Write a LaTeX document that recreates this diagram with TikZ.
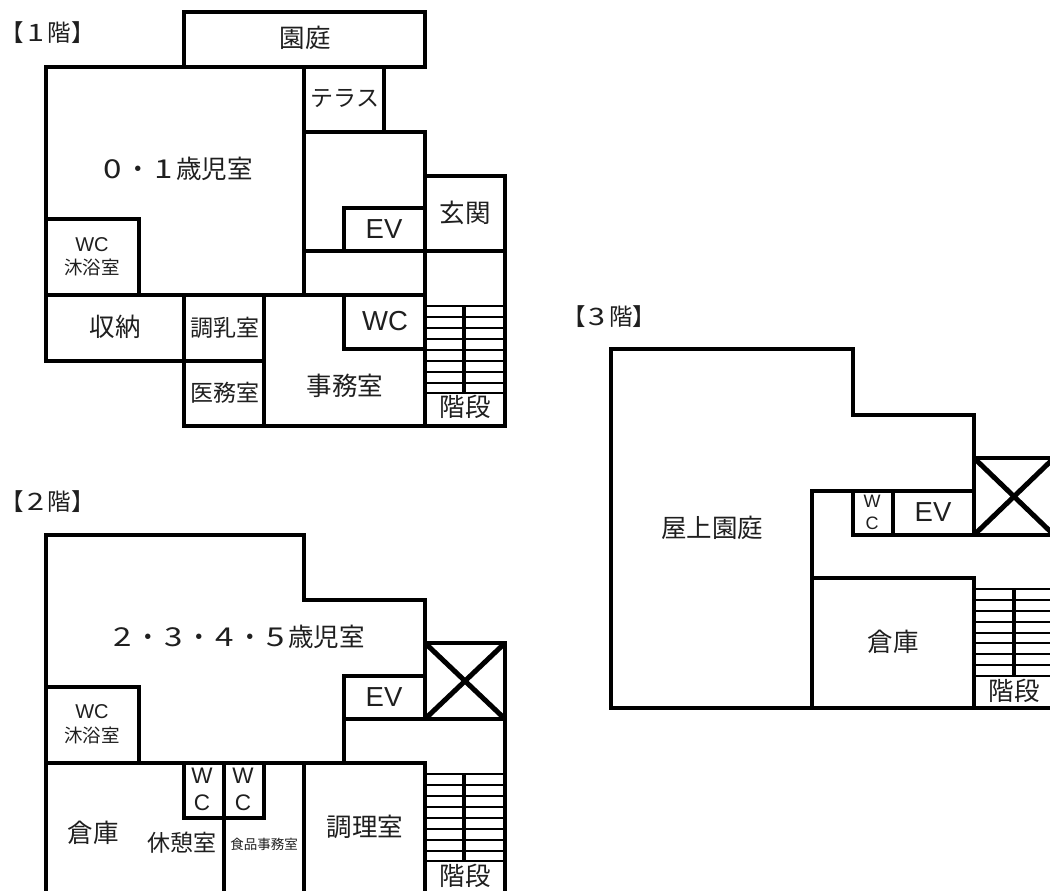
\documentclass[tikz,border=0pt]{standalone}
\usepackage{fontspec}
\usepackage{graphicx}
\setmainfont{Noto Sans CJK JP}
\newfontfamily\latinface{Liberation Sans}
\newcommand{\wdg}[1]{\makebox[1em]{\scalebox{1.3}[1.02]{#1}}}
\tikzset{
  wall/.style={line width=4.4pt,line cap=rect,black},
  tread/.style={line width=2pt,black},
  newel/.style={line width=3.5pt,black},
  crossing/.style={line width=5pt,black},
  lbl/.style={inner sep=0pt,text=black!88},
  lh/.style={lbl,font=\fontsize{23.5}{23.5}\selectfont},
  lg/.style={lbl,font=\fontsize{25.5}{25.5}\selectfont},
  lm/.style={lbl,font=\fontsize{23}{23}\selectfont},
  ls/.style={lbl,font=\fontsize{18.5}{18.5}\selectfont},
  lt/.style={lbl,font=\fontsize{13.5}{13.5}\selectfont},
  lv/.style={lbl,font=\latinface\fontsize{27.5}{27.5}\selectfont},
  lwc/.style={lbl,font=\latinface\fontsize{20}{20}\selectfont},
  lwl/.style={lbl,font=\latinface\fontsize{22.5}{22.5}\selectfont},
  lws/.style={lbl,font=\latinface\fontsize{18}{18}\selectfont},
}
\begin{document}
\begin{tikzpicture}[x=1pt,y=-1pt]
\useasboundingbox (0,0) rectangle (1050,891);
\clip (0,0) rectangle (1050,891);
% ---------- floor 1
\draw[wall] (184,67) -- (184,12) -- (425,12) -- (425,67) -- (46,67) -- (46,361) -- (264,361);
\draw[wall] (384,67) -- (384,132);
\draw[wall] (304,67) -- (304,295);
\draw[wall] (304,132) -- (425,132) -- (425,295);
\draw[wall] (425,176) -- (505,176) -- (505,426) -- (184,426) -- (184,295);
\draw[wall] (304,251) -- (505,251);
\draw[wall] (425,208) -- (344,208) -- (344,251);
\draw[wall] (46,219) -- (139,219) -- (139,295);
\draw[wall] (46,295) -- (425,295);
\draw[wall] (264,295) -- (264,426);
\draw[wall] (344,295) -- (344,349) -- (425,349);
\draw[wall] (425,295) -- (425,426);
\foreach \y in {306,317,328,339,350,361,372,383,393} \draw[tread] (425,\y) -- (505,\y);
\draw[newel] (464,306) -- (464,393);
% ---------- floor 2
\draw[wall] (46,891) -- (46,535) -- (304,535) -- (304,600) -- (425,600) -- (425,719);
\draw[wall] (425,643) -- (505,643) -- (505,891);
\draw[crossing] (425,643) -- (505,719);
\draw[crossing] (505,643) -- (425,719);
\draw[wall] (425,676) -- (344,676) -- (344,763);
\draw[wall] (344,719) -- (505,719);
\draw[wall] (46,687) -- (139,687) -- (139,763);
\draw[wall] (46,763) -- (425,763) -- (425,891);
\draw[wall] (184,763) -- (184,818) -- (264,818) -- (264,763);
\draw[wall] (224,763) -- (224,891);
\draw[wall] (304,763) -- (304,891);
\foreach \y in {774,785,796,807,818,829,840,851,861} \draw[tread] (425,\y) -- (505,\y);
\draw[newel] (464,774) -- (464,861);
% ---------- floor 3
\draw[wall] (812,491) -- (812,708);
\draw[wall] (611,708) -- (611,349) -- (853,349) -- (853,415) -- (974,415) -- (974,535);
\draw[wall] (611,708) -- (1054,708) -- (1054,458) -- (974,458);
\draw[crossing] (974,458) -- (1054,535);
\draw[crossing] (1054,458) -- (974,535);
\draw[wall] (812,491) -- (974,491);
\draw[wall] (853,491) -- (853,535) -- (1054,535);
\draw[wall] (893,491) -- (893,535);
\draw[wall] (812,578) -- (974,578) -- (974,708);
\foreach \y in {589,600,611,622,633,643,654,665,676} \draw[tread] (974,\y) -- (1054,\y);
\draw[newel] (1014,589) -- (1014,676);
% ---------- labels floor 1
\node[lh] (t1) at (48,33) {【\wdg{1}階】};
\node[lg] (a1) at (305,38) {園庭};
\node[lm] (a2) at (345,98) {テラス};
\node[lg] (a3) at (176,169) {\wdg{0}・\wdg{1}歳児室};
\node[lg] (a4) at (465,213) {玄関};
\node[lv] (a5) at (384,229) {EV};
\node[lwc] (a6) at (92,245) {WC};
\node[ls] (a7) at (92,267) {沐浴室};
\node[lg] (a8) at (115,327) {収納};
\node[lm] (a9) at (225,328) {調乳室};
\node[lm] (a10) at (225,393) {医務室};
\node[lv] (a11) at (385,321) {WC};
\node[lg] (a12) at (345,386) {事務室};
\node[lg] (a13) at (465,407) {階段};
% ---------- labels floor 2
\node[lh] (t2) at (48,502) {【\wdg{2}階】};
\node[lg] (b1) at (237,637) {\wdg{2}・\wdg{3}・\wdg{4}・\wdg{5}歳児室};
\node[lv] (b2) at (384,697) {EV};
\node[lwc] (b3) at (92,712) {WC};
\node[ls] (b4) at (92,735) {沐浴室};
\node[lg] (b5) at (93,833) {倉庫};
\node[lm] (b6) at (182,843) {休憩室};
\node[lt] (b7) at (264,844) {食品事務室};
\node[lg] (b8) at (365,827) {調理室};
\node[lg] (b9) at (465,876) {階段};
\node[lwl] (b10) at (202,776) {W};
\node[lwl] (b11) at (202,803) {C};
\node[lwl] (b12) at (243,776) {W};
\node[lwl] (b13) at (243,803) {C};
% ---------- labels floor 3
\node[lh] (t3) at (609,317) {【\wdg{3}階】};
\node[lg] (c1) at (712,528) {屋上園庭};
\node[lws] (c2) at (872,501) {W};
\node[lws] (c3) at (872,523) {C};
\node[lv] (c4) at (933,512) {EV};
\node[lg] (c5) at (893,642) {倉庫};
\node[lg] (c6) at (1014,691) {階段};
\end{tikzpicture}
\end{document}
